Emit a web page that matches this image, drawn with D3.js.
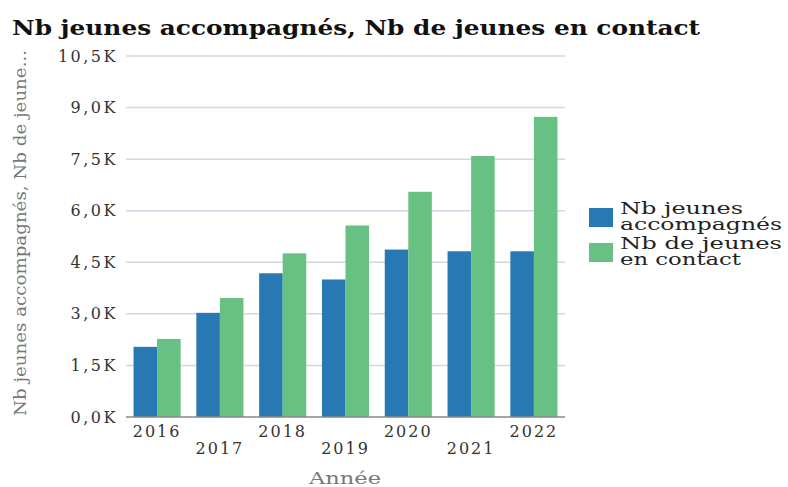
<!DOCTYPE html>
<html>
<head>
<meta charset="utf-8">
<script src="https://cdn.jsdelivr.net/npm/d3@7"></script>
<style>
  body { margin: 0; background: #fff; }
  text { font-family: "DejaVu Serif", serif; }
</style>
</head>
<body>
<svg id="chart" width="788" height="487"></svg>
<script>
const years = ['2016', '2017', '2018', '2019', '2020', '2021', '2022'];
const accompagnes = [2040, 3030, 4180, 4000, 4870, 4820, 4820];
const enContact = [2270, 3460, 4760, 5570, 6550, 7590, 8730];
const seriesNames = ['Nb jeunes accompagnés', 'Nb de jeunes en contact'];
const yTicks = [0, 1500, 3000, 4500, 6000, 7500, 9000, 10500];

const colors = ['#2878b3', '#67c182'];

const svg = d3.select('#chart');
const margin = {top: 56, right: 223, bottom: 70, left: 126};
const width = +svg.attr('width');
const height = +svg.attr('height');
const innerWidth = width - margin.left - margin.right;
const innerHeight = height - margin.top - margin.bottom;

const g = svg.append('g')
    .attr('transform', `translate(${margin.left}, ${margin.top})`);

const xScale = d3.scaleBand().domain(years).range([0, innerWidth])
    .paddingInner(0.25).paddingOuter(0.12);
const xSub = d3.scaleBand().domain([0, 1]).range([0, xScale.bandwidth()]);
const yScale = d3.scaleLinear().domain([0, 10500]).range([innerHeight, 0]);

// grid
g.selectAll('.grid').data(yTicks.slice(1)).enter().append('line')
    .attr('x1', 0).attr('x2', innerWidth)
    .attr('y1', d => yScale(d)).attr('y2', d => yScale(d))
    .attr('stroke', '#cfd8e3').attr('stroke-width', 1.5);

// y tick labels
const fmt = d => (d / 1000).toFixed(1).replace('.', ',') + 'K';
g.selectAll('.ytick').data(yTicks).enter().append('text')
    .attr('x', -8).attr('y', d => yScale(d))
    .attr('dy', '0.35em')
    .attr('text-anchor', 'end')
    .attr('fill', '#333')
    .style('font-size', '16px')
    .style('letter-spacing', '2.5px')
    .text(fmt);

// bars
const data = years.map((y, i) => ({year: y, values: [accompagnes[i], enContact[i]]}));
const groups = g.selectAll('.grp').data(data).enter().append('g')
    .attr('transform', d => `translate(${xScale(d.year)}, 0)`);
groups.selectAll('rect').data(d => d.values).enter().append('rect')
    .attr('x', (d, i) => xSub(i))
    .attr('width', xSub.bandwidth())
    .attr('y', d => yScale(d))
    .attr('height', d => innerHeight - yScale(d))
    .attr('fill', (d, i) => colors[i]);

// x axis line
g.append('line')
    .attr('x1', 0).attr('x2', innerWidth)
    .attr('y1', innerHeight).attr('y2', innerHeight)
    .attr('stroke', '#888').attr('stroke-width', 1.5);

// x tick labels, staggered
g.selectAll('.xtick').data(years).enter().append('text')
    .attr('x', d => xScale(d) + xScale.bandwidth() / 2)
    .attr('y', (d, i) => innerHeight + (i % 2 === 0 ? 20 : 37))
    .attr('text-anchor', 'middle')
    .attr('fill', '#333')
    .style('font-size', '16px')
    .style('letter-spacing', '2px')
    .text(d => d);

// axis titles
svg.append('text')
    .attr('x', 345).attr('y', 484)
    .attr('text-anchor', 'middle')
    .attr('fill', '#777')
    .style('font-size', '16px')
    .attr('textLength', 72).attr('lengthAdjust', 'spacingAndGlyphs')
    .text('Année');

svg.append('text')
    .attr('transform', 'translate(26, 416) rotate(-90)')
    .attr('text-anchor', 'start')
    .attr('fill', '#777')
    .style('font-size', '16px')
    .attr('textLength', 366).attr('lengthAdjust', 'spacingAndGlyphs')
    .text('Nb jeunes accompagnés, Nb de jeune...');

// title
svg.append('text')
    .attr('x', 12).attr('y', 35)
    .attr('fill', '#111')
    .style('font-size', '21px')
    .style('font-weight', 'bold')
    .attr('textLength', 688).attr('lengthAdjust', 'spacingAndGlyphs')
    .text('Nb jeunes accompagnés, Nb de jeunes en contact');

// legend
const legendLines = [['Nb jeunes', 'accompagnés'], ['Nb de jeunes', 'en contact']];
const legendWidths = [[123, 162], [162, 121]];
const legend = svg.append('g').attr('transform', 'translate(589, 208)');
legendLines.forEach((lines, i) => {
  const lg = legend.append('g').attr('transform', `translate(0, ${i * 35})`);
  lg.append('rect').attr('width', 24).attr('height', 19).attr('fill', colors[i]);
  lines.forEach((t, j) => {
    lg.append('text')
      .attr('x', 31).attr('y', 6 + j * 16)
      .attr('fill', '#222')
      .style('font-size', '16px')
      .attr('textLength', legendWidths[i][j]).attr('lengthAdjust', 'spacingAndGlyphs')
      .text(t);
  });
});
</script>
</body>
</html>
